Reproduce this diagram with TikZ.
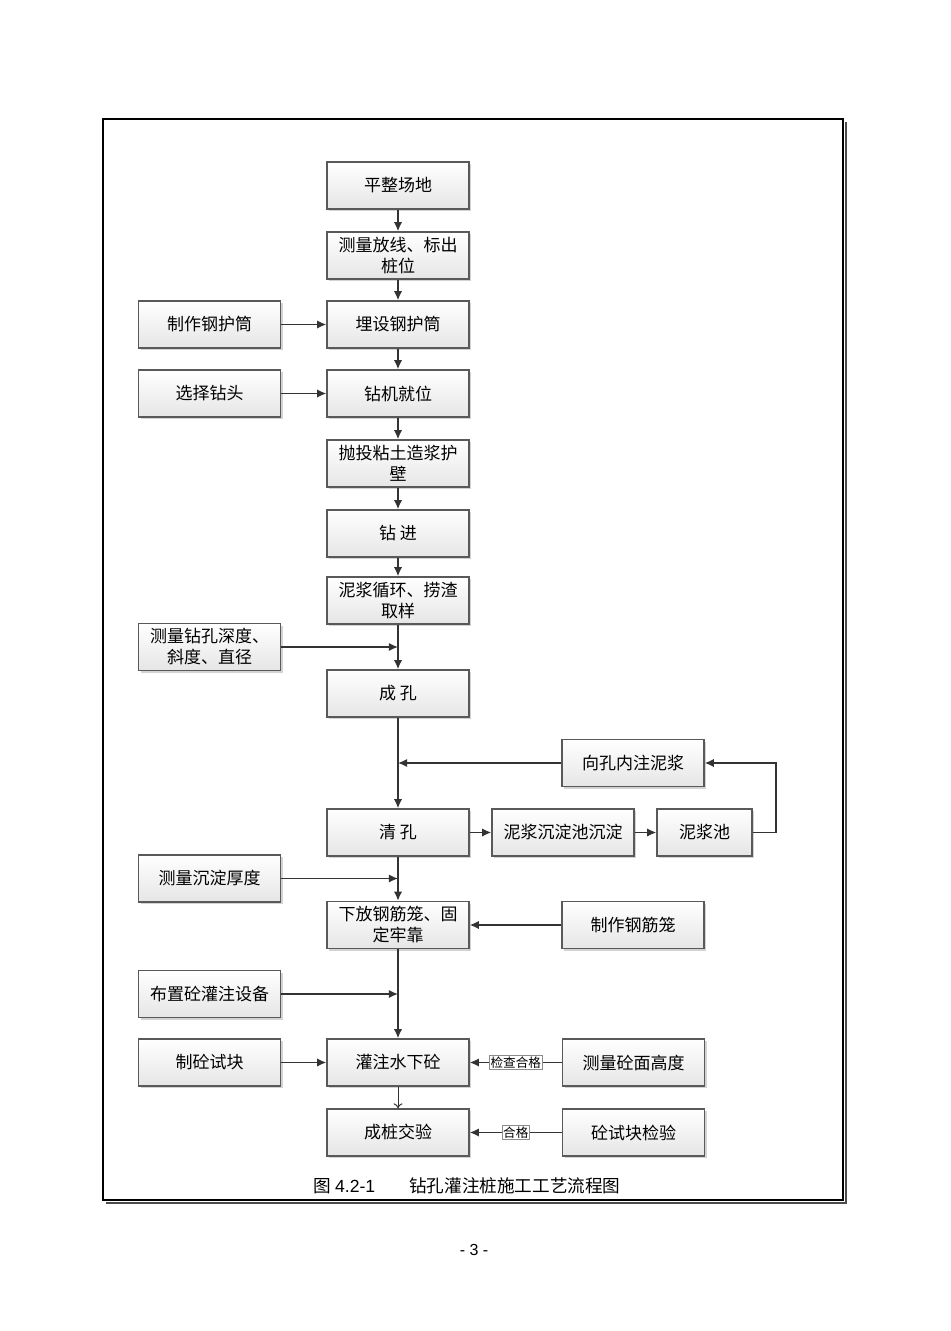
\documentclass[tikz,border=0pt]{standalone}
\usepackage{fontspec}
\setmainfont{Noto Sans CJK SC}
\newfontfamily\arialfont{Liberation Sans}
\usetikzlibrary{arrows.meta,shadows}

\begin{document}
\begin{tikzpicture}[x=0.5pt,y=-0.5pt,
  stepbox/.style={draw=black!65, line width=0.7pt, top color=white, bottom color=black!10,
    minimum width=71pt, minimum height=23.5pt, inner sep=1pt, align=center,
    font=\fontsize{8.5}{10.5}\selectfont,
    drop shadow={shadow xshift=1.1pt, shadow yshift=-1.1pt, opacity=0.35}},
  tag/.style={draw=black!45, line width=0.3pt, fill=white, inner sep=0.6pt,
    font=\fontsize{6.3}{7}\selectfont},
  arr/.style={draw=black!80, line width=0.8pt, -{Latex[length=4.6pt,width=4.2pt]}}]
\useasboundingbox (0,0) rectangle (950,1331);

% frame
\draw[line width=1.2pt] (103,119) rectangle (843,1200);
\draw[line width=0.6pt, black!70] (106,1203) -| (846,122);

% main column
\node[stepbox] (p1) at (398,185.5) {平整场地};
\node[stepbox] (p2) at (398,255.5) {测量放线、标出\\桩位};
\node[stepbox] (p3) at (398,324.5) {埋设钢护筒};
\node[stepbox] (p4) at (398,393.5) {钻机就位};
\node[stepbox] (p5) at (398,463.5) {抛投粘土造浆护\\壁};
\node[stepbox] (p6) at (398,533.5) {钻 进};
\node[stepbox] (p7) at (398,600.5) {泥浆循环、捞渣\\取样};
\node[stepbox] (p8) at (398,693.5) {成 孔};
\node[stepbox] (p9) at (398,832.5) {清 孔};
\node[stepbox] (p10) at (398,925) {下放钢筋笼、固\\定牢靠};
\node[stepbox] (p11) at (398,1062.5) {灌注水下砼};
\node[stepbox] (p12) at (398,1132.5) {成桩交验};

% left column
\node[stepbox] (l1) at (209.5,324.5) {制作钢护筒};
\node[stepbox] (l2) at (209.5,393.5) {选择钻头};
\node[stepbox] (l3) at (209.5,647) {测量钻孔深度、\\斜度、直径};
\node[stepbox] (l4) at (209.5,878.5) {测量沉淀厚度};
\node[stepbox] (l5) at (209.5,994) {布置砼灌注设备};
\node[stepbox] (l6) at (209.5,1062.5) {制砼试块};

% right column
\node[stepbox] (r1) at (633,763) {向孔内注泥浆};
\node[stepbox] (r2) at (563,832.5) {泥浆沉淀池沉淀};
\node[stepbox, minimum width=47.5pt] (r3) at (704.5,832.5) {泥浆池};
\node[stepbox] (r4) at (633,925) {制作钢筋笼};
\node[stepbox] (r5) at (633.5,1062.5) {测量砼面高度};
\node[stepbox] (r6) at (633.5,1132.5) {砼试块检验};

% main flow
\draw[arr] (p1) -- (p2);
\draw[arr] (p2) -- (p3);
\draw[arr] (p3) -- (p4);
\draw[arr] (p4) -- (p5);
\draw[arr] (p5) -- (p6);
\draw[arr] (p6) -- (p7);
\draw[arr] (p7) -- (p8);
\draw[arr] (p8) -- (p9);
\draw[arr] (p9) -- (p10);
\draw[arr] (p10) -- (p11);
\draw[draw=black!80, line width=0.5pt, -{To[length=2.5pt,width=4.5pt]}] (p11) -- (p12);

% side inputs
\draw[arr] (l1) -- (p3);
\draw[arr] (l2) -- (p4);
\draw[arr] (l3.east) -- (l3.east -| p7.south);
\draw[arr] (l4.east) -- (l4.east -| p9.south);
\draw[arr] (l5.east) -- (l5.east -| p10.south);
\draw[arr] (l6) -- (p11);
\draw[arr] (r1.west) -- (r1.west -| p8.south);
\draw[arr] (p9) -- (r2);
\draw[arr] (r2) -- (r3);
\draw[arr] (r3.east) -- ++(23,0) |- (r1.east);
\draw[arr] (r4) -- (p10);
\draw[arr] (r5) -- node[tag] {检查合格} (p11);
\draw[arr] (r6) -- node[tag] {合格} (p12);

% caption
\node[font=\fontsize{8.8}{10}\selectfont] (cap) at (467,1186)
  {图 {\arialfont 4.2-1}\hspace{17pt}钻孔灌注桩施工工艺流程图};
\node[font=\arialfont\fontsize{8}{10}\selectfont] (pg) at (474,1250) {- 3 -};
\end{tikzpicture}
\end{document}
